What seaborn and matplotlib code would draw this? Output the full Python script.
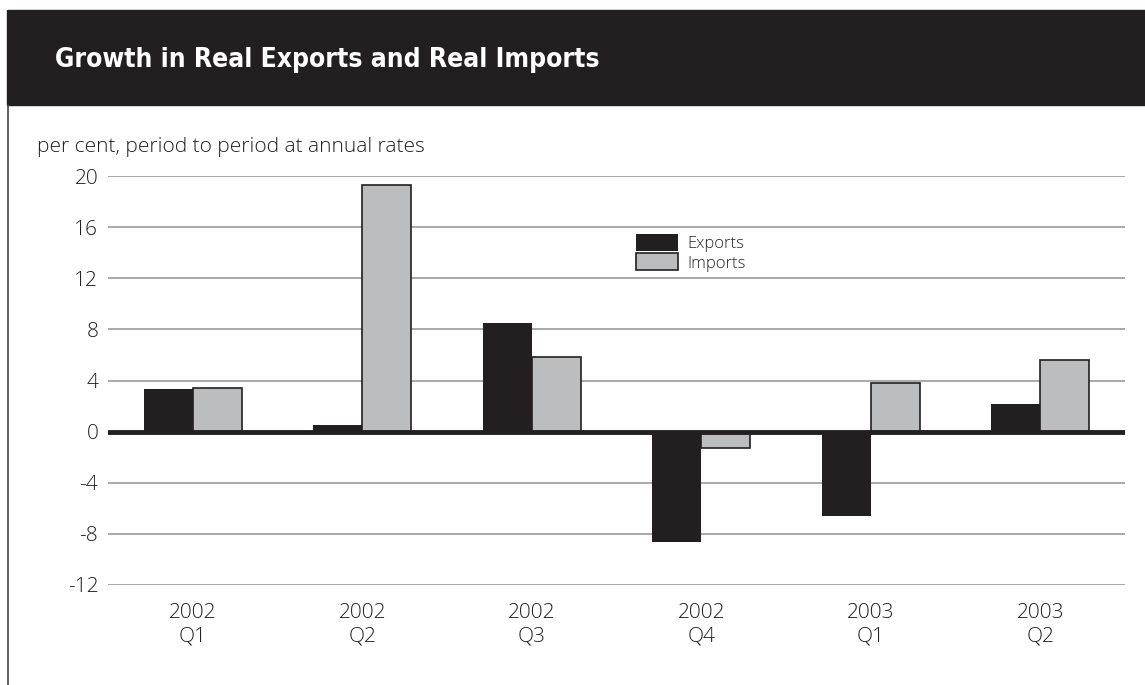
import numpy as np
import pandas as pd
import seaborn as sns
import matplotlib.pyplot as plt
from matplotlib.patches import Rectangle, Patch
from matplotlib.lines import Line2D

# ---------------------------------------------------------------
# Data
# ---------------------------------------------------------------
quarters = ['2002\nQ1', '2002\nQ2', '2002\nQ3', '2002\nQ4', '2003\nQ1', '2003\nQ2']
exports = [3.3, 0.5, 8.5, -8.6, -6.6, 2.2]
imports = [3.4, 19.3, 5.8, -1.3, 3.8, 5.6]
series = ['Exports', 'Imports']
y_ticks = [-12, -8, -4, 0, 4, 8, 12, 16, 20]

BLACK = '#231f20'
GREY = '#bcbdbf'

df = pd.DataFrame({
    'quarter': quarters * 2,
    'series': ['Exports'] * len(quarters) + ['Imports'] * len(quarters),
    'value': exports + imports,
})

sns.set_style('white')
plt.rcParams['font.family'] = ['Open Sans', 'DejaVu Sans']
plt.rcParams['font.weight'] = 'light'

W, H = 1145, 685
fig = plt.figure(figsize=(W / 100, H / 100), dpi=100)

# title band + frame line
fig.patches.append(Rectangle((7 / W, 1 - 105 / H), 1 - 7 / W, 95 / H,
                             transform=fig.transFigure, color=BLACK, zorder=0))
fig.lines.append(Line2D([7.5 / W, 7.5 / W], [0, 1 - 105 / H],
                        transform=fig.transFigure, color='#444444', lw=1.2))
fig.text(55 / W, 1 - 60 / H, 'Growth in Real Exports and Real Imports',
         color='white', fontsize=19, fontweight='bold', fontstretch='condensed',
         family=['DejaVu Sans'], va='center')
fig.text(37 / W, 1 - 147 / H, 'per cent, period to period at annual rates',
         color=BLACK, fontsize=15, va='center')

ax = fig.add_axes([108 / W, 100 / H, 1017 / W, 409 / H])
sns.barplot(data=df, x='quarter', y='value', hue='series', order=quarters,
            hue_order=series, palette=[BLACK, GREY], width=0.58, gap=0,
            saturation=1, ax=ax, legend=False)

# imports get a thin dark outline, exports none
n = len(quarters)
for i, bar in enumerate(ax.patches[:2 * n]):
    bar.set_edgecolor(BLACK)
    bar.set_linewidth(0 if i < n else 1.2)

ax.set_xlim(-0.5, 5.5)
ax.set_ylim(-12, 20)
ax.set_yticks(y_ticks)
ax.set_yticklabels([str(t) for t in y_ticks])
ax.set_xlabel('')
ax.set_ylabel('')
ax.set_axisbelow(True)
ax.yaxis.grid(True, color='#9a9a9a', lw=1.2)
ax.xaxis.grid(False)
ax.axhline(0, color=BLACK, lw=3.5, zorder=1)
for s in ax.spines.values():
    s.set_visible(False)
ax.tick_params(axis='y', length=0, pad=7, labelsize=15, labelcolor=BLACK)
ax.tick_params(axis='x', length=0, pad=13, labelsize=15, labelcolor=BLACK)
for lab in ax.get_xticklabels():
    lab.set_linespacing(1.2)

handles = [Patch(facecolor=BLACK, edgecolor=BLACK, lw=0),
           Patch(facecolor=GREY, edgecolor=BLACK, lw=1.2)]
fig.legend(handles, series, loc='upper left', bbox_to_anchor=(628 / W, 1 - 226 / H),
           frameon=False, fontsize=12, handlelength=2.5, handleheight=1.2,
           handletextpad=0.55, labelspacing=0.05, borderpad=0)

fig.savefig('out.png', dpi=100)
